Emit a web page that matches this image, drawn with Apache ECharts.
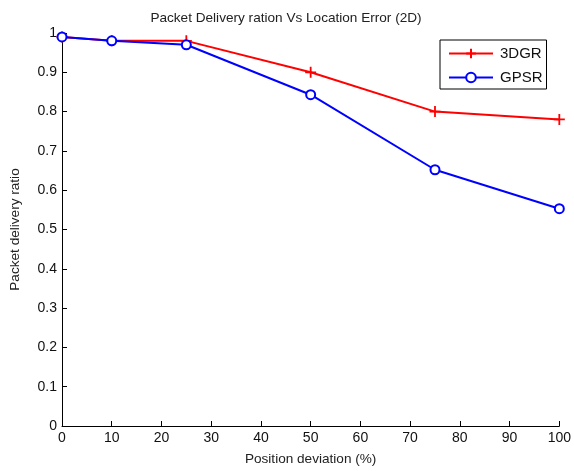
<!DOCTYPE html>
<html><head><meta charset="utf-8">
<script src="https://cdn.jsdelivr.net/npm/echarts@6/dist/echarts.min.js"></script>
<style>html,body{margin:0;padding:0;background:#fff}#c{width:574px;height:471px}</style>
</head><body><div id="c"></div>
<script>
const xValues = [0, 10, 25, 50, 75, 100];
const dgr3 = [0.99, 0.98, 0.98, 0.90, 0.80, 0.78];
const gpsr = [0.99, 0.98, 0.97, 0.843, 0.652, 0.553];
const xTicks = [0,10,20,30,40,50,60,70,80,90,100];
const yTicks = [0,0.1,0.2,0.3,0.4,0.5,0.6,0.7,0.8,0.9,1];
const plus = 'path://M0,5L10,5M5,0L5,10';
const font = 'Liberation Sans';
const chart = echarts.init(document.getElementById('c'));
chart.setOption({
  animation: false,
  textStyle: {fontFamily: font},
  title: {text: 'Packet Delivery ration Vs Location Error (2D)', left: 281, top: 6, textAlign: 'center',
    textStyle: {fontFamily: font, fontSize: 13.6, fontWeight: 'normal', color: '#222'}},
  grid: {left: 61, right: 11, top: 33, bottom: 43},
  legend: {left: 440, top: 40, orient: 'vertical', itemWidth: 44, itemHeight: 12, itemGap: 9,
    borderColor: '#000', borderWidth: 1, borderRadius: 0, padding: [6, 4, 4, 8],
    backgroundColor: '#fff',
    textStyle: {fontFamily: font, fontSize: 15, color: '#111', padding: [0,0,0,2]},
    data: [{name: '3DGR'}, {name: 'GPSR'}]},
  xAxis: {type: 'value', min: 0, max: 100, interval: 10,
    name: 'Position deviation (%)', nameLocation: 'middle', nameGap: 26,
    nameTextStyle: {fontFamily: font, fontSize: 13.6, color: '#222'},
    axisLine: {lineStyle: {color: '#000'}},
    axisTick: {inside: true, length: 5, lineStyle: {color: '#000'}},
    axisLabel: {fontFamily: font, fontSize: 14, color: '#111', margin: 5},
    splitLine: {show: false}},
  yAxis: {type: 'value', min: 0, max: 1, interval: 0.1,
    name: 'Packet delivery ratio', nameLocation: 'middle', nameGap: 40,
    nameTextStyle: {fontFamily: font, fontSize: 13.6, color: '#222'},
    axisLine: {show: true, lineStyle: {color: '#000'}},
    axisTick: {show: true, inside: true, length: 5, lineStyle: {color: '#000'}},
    axisLabel: {fontFamily: font, fontSize: 14, color: '#111', margin: 5,
      formatter: v => (Math.round(v*10)/10).toString()},
    splitLine: {show: false}},
  series: [
    {name: '3DGR', type: 'line', data: xValues.map((x,i)=>[x, dgr3[i]]),
      symbol: plus, symbolSize: 11, itemStyle: {color: '#f00', borderColor: '#f00', borderWidth: 1.8},
      lineStyle: {color: '#f00', width: 2}, z: 2},
    {name: 'GPSR', type: 'line', data: xValues.map((x,i)=>[x, gpsr[i]]),
      symbol: 'emptyCircle', symbolSize: 9, itemStyle: {color: '#00f', borderColor: '#00f', borderWidth: 2},
      lineStyle: {color: '#00f', width: 2}, z: 3}
  ]
});
</script></body></html>
